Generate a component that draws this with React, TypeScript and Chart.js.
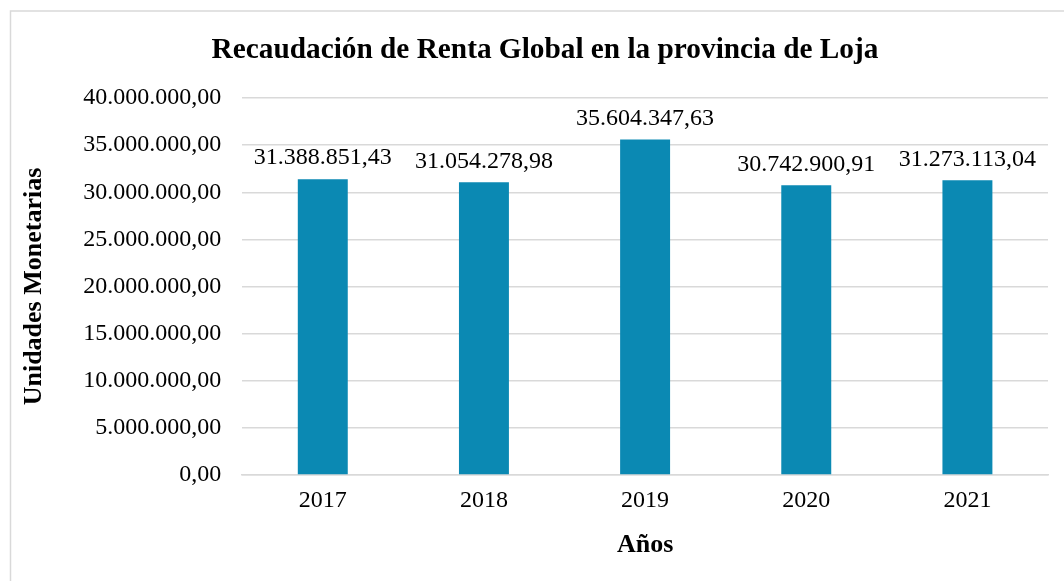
import React, { useEffect, useRef } from "react";
import { Chart, registerables } from "chart.js";

Chart.register(...registerables);

const categories = ["2017", "2018", "2019", "2020", "2021"];
const values = [31388851.43, 31054278.98, 35604347.63, 30742900.91, 31273113.04];
const titleText = "Recaudación de Renta Global en la provincia de Loja";
const yTitle = "Unidades Monetarias";
const xTitle = "Años";
const barColor = "#0B89B3";
const FONT = "'Liberation Serif', 'Times New Roman', serif";

function fmt(v: number): string {
  const fixed = Math.abs(v).toFixed(2);
  const [intPart, dec] = fixed.split(".");
  const withDots = intPart.replace(/\B(?=(\d{3})+(?!\d))/g, ".");
  return (v < 0 ? "-" : "") + withDots + "," + dec;
}

const labelPlugin = {
  id: "barLabels",
  afterDatasetsDraw(chart: any) {
    const ctx = chart.ctx;
    const meta = chart.getDatasetMeta(0);
    ctx.save();
    ctx.font = `24px ${FONT}`;
    ctx.fillStyle = "#000";
    ctx.textAlign = "center";
    ctx.textBaseline = "bottom";
    meta.data.forEach((bar: any, i: number) => {
      ctx.fillText(fmt(values[i]), bar.x, bar.y - 9);
    });
    ctx.restore();
  },
};

const borderAndTitlePlugin = {
  id: "outerBorder",
  beforeDraw(chart: any) {
    const ctx = chart.ctx;
    ctx.save();
    ctx.fillStyle = "#fff";
    ctx.fillRect(0, 0, chart.width, chart.height);
    ctx.strokeStyle = "#d9d9d9";
    ctx.lineWidth = 1.5;
    ctx.strokeRect(10.5, 11, chart.width + 20, chart.height + 20);
    ctx.fillStyle = "#000";
    ctx.font = `bold 29.3px ${FONT}`;
    ctx.textAlign = "center";
    ctx.textBaseline = "middle";
    ctx.fillText(titleText, 545, 50);
    ctx.restore();
  },
};

export default function App() {
  const ref = useRef<HTMLCanvasElement | null>(null);
  useEffect(() => {
    document.body.style.margin = "0";
    const chart = new Chart(ref.current as HTMLCanvasElement, {
      type: "bar",
      data: {
        labels: categories,
        datasets: [
          {
            data: values,
            backgroundColor: barColor,
            barPercentage: 0.62,
            categoryPercentage: 0.5,
          },
        ],
      },
      options: {
        animation: false,
        responsive: false,
        layout: { padding: { left: 17, right: 16, top: 98, bottom: 20 } },
        plugins: {
          legend: { display: false },
          tooltip: { enabled: false },
          title: { display: false },
        },
        scales: {
          x: {
            grid: { display: false },
            border: { color: "#d9d9d9", width: 1.5 },
            ticks: { color: "#000", font: { family: FONT, size: 24 }, padding: 3 },
            title: {
              display: true,
              text: xTitle,
              color: "#000",
              font: { family: FONT, size: 26, weight: "bold" },
              padding: { top: 11.5, bottom: 0.5 },
            },
          },
          y: {
            min: 0,
            max: 40000000,
            grid: { color: "#d9d9d9", lineWidth: 1.5, drawTicks: false },
            border: { display: false },
            ticks: {
              stepSize: 5000000,
              color: "#000",
              font: { family: FONT, size: 24 },
              padding: 21,
              callback: (v: any) => fmt(Number(v)),
            },
            title: {
              display: true,
              text: yTitle,
              color: "#000",
              font: { family: FONT, size: 26, weight: "bold" },
              padding: { top: 2, bottom: 12 },
            },
          },
        },
      },
      plugins: [borderAndTitlePlugin, labelPlugin],
    });
    return () => chart.destroy();
  }, []);
  return (
    <div style={{ width: 1064, height: 581 }}>
      <canvas ref={ref} width={1064} height={581} style={{ display: "block" }} />
    </div>
  );
}
